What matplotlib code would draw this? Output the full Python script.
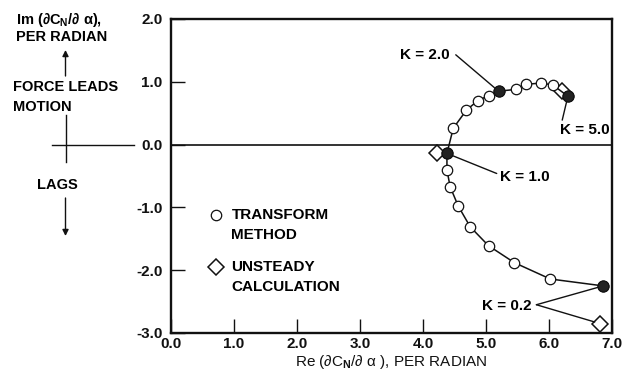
import numpy as np
import matplotlib
matplotlib.use('Agg')
import matplotlib.pyplot as plt
from matplotlib.lines import Line2D

# ─────────────────────────────────────────
# DATA
# ─────────────────────────────────────────

# transform method, ordered from K = 0.2 round to K = 5.0
TRANSFORM_RE = [6.86, 6.02, 5.45, 5.04, 4.75, 4.56, 4.43, 4.38, 4.38,
                4.48, 4.69, 4.87, 5.04, 5.20, 5.48, 5.63, 5.88, 6.06, 6.30]
TRANSFORM_IM = [-2.25, -2.14, -1.88, -1.61, -1.31, -0.98, -0.67, -0.40, -0.14,
                0.26, 0.55, 0.70, 0.78, 0.85, 0.88, 0.96, 0.98, 0.95, 0.77]

# the filled points (K = 0.2, 1.0, 2.0, 5.0)
K_LABELS = ['K = 0.2', 'K = 1.0', 'K = 2.0', 'K = 5.0']
K_RE = [6.86, 4.38, 5.20, 6.30]
K_IM = [-2.25, -0.14, 0.85, 0.77]

# unsteady calculation (K = 0.2, 1.0, 5.0)
UNSTEADY_RE = [6.81, 4.22, 6.21]
UNSTEADY_IM = [-2.85, -0.14, 0.85]

X_TICKS = [0, 1, 2, 3, 4, 5, 6, 7]
Y_TICKS = [-3, -2, -1, 0, 1, 2]

FONT = ['Liberation Sans', 'DejaVu Sans']
INK = '#111111'
FS = 11

plt.rcParams['font.family'] = FONT
plt.rcParams['font.weight'] = 'bold'
plt.rcParams['mathtext.fontset'] = 'custom'
plt.rcParams['mathtext.rm'] = 'Liberation Sans:bold'
plt.rcParams['mathtext.bf'] = 'Liberation Sans:bold'
plt.rcParams['mathtext.it'] = 'Liberation Sans:bold'

W, H = 623, 380
fig = plt.figure(figsize=(W / 100, H / 100), dpi=100)
ax = fig.add_axes([171 / W, 1 - 333 / H, (612 - 171) / W, (333 - 19) / H])


def fig_xy(px, py):
    # top-left pixel position -> figure fraction
    return px / W, 1 - py / H


# ─────────────────────────────────────────
# AXES
# ─────────────────────────────────────────
ax.set_xlim(0, 7)
ax.set_ylim(-3, 2)
ax.set_xticks(X_TICKS)
ax.set_yticks(Y_TICKS)
ax.set_xticklabels([f'{v:.1f}' for v in X_TICKS])
ax.set_yticklabels([f'{v:.1f}' for v in Y_TICKS])
ax.tick_params(direction='in', length=10, width=1.0, colors=INK,
               labelsize=FS, top=False, right=False)
ax.tick_params(axis='y', pad=6)
ax.tick_params(axis='x', pad=3)
for s in ax.spines.values():
    s.set_linewidth(1.7)
    s.set_color(INK)
ax.axhline(0, color=INK, lw=1.2, zorder=1)

ax.set_xlabel('Re (∂C$_{N}$/∂ α ), PER RADIAN', fontsize=FS, color=INK, labelpad=1)

# ─────────────────────────────────────────
# SERIES
# ─────────────────────────────────────────
ax.plot(UNSTEADY_RE, UNSTEADY_IM, ls='none', marker='D', ms=8,
        mfc='white', mec=INK, mew=1.1, zorder=3)
ax.plot(TRANSFORM_RE, TRANSFORM_IM, color=INK, lw=1.1, marker='o', ms=7.5,
        mfc='white', mec=INK, mew=0.9, zorder=4)
ax.plot(K_RE, K_IM, ls='none', marker='o', ms=8,
        mfc='#222222', mec=INK, mew=0.9, zorder=5)

# ─────────────────────────────────────────
# K LABELS
# ─────────────────────────────────────────
arr = dict(arrowstyle='-', color=INK, lw=1.0, shrinkA=0, shrinkB=4)
ax.annotate('', xy=(K_RE[2], K_IM[2]), xytext=(4.52, 1.43), arrowprops=arr)
ax.text(4.43, 1.43, K_LABELS[2], ha='right', va='center', fontsize=FS)

ax.annotate('', xy=(K_RE[3], K_IM[3]), xytext=(6.21, 0.39), arrowprops=arr)
ax.text(6.17, 0.23, K_LABELS[3], ha='left', va='center', fontsize=FS)

ax.annotate('', xy=(K_RE[1], K_IM[1]), xytext=(5.17, -0.46), arrowprops=arr)
ax.text(5.22, -0.51, K_LABELS[1], ha='left', va='center', fontsize=FS)

ax.annotate('', xy=(K_RE[0], K_IM[0]), xytext=(5.80, -2.55), arrowprops=arr)
ax.annotate('', xy=(UNSTEADY_RE[0], UNSTEADY_IM[0]), xytext=(5.80, -2.55),
            arrowprops=arr)
ax.text(5.73, -2.57, K_LABELS[0], ha='right', va='center', fontsize=FS)

# ─────────────────────────────────────────
# LEGEND (drawn in place)
# ─────────────────────────────────────────
ax.plot([0.71], [-1.12], marker='o', ms=7.5, mfc='white', mec=INK, mew=0.9)
ax.text(0.96, -1.12, 'TRANSFORM', va='center', fontsize=FS)
ax.text(0.96, -1.44, 'METHOD', va='center', fontsize=FS)
ax.plot([0.71], [-1.95], marker='D', ms=8, mfc='white', mec=INK, mew=1.1)
ax.text(0.96, -1.95, 'UNSTEADY', va='center', fontsize=FS)
ax.text(0.96, -2.27, 'CALCULATION', va='center', fontsize=FS)

# ─────────────────────────────────────────
# LEFT-SIDE Y LABEL AND DIRECTION ARROWS
# ─────────────────────────────────────────
fig.text(*fig_xy(16, 20), 'Im (∂C$_{N}$/∂ α),', va='center', fontsize=10.5)
fig.text(*fig_xy(16, 37), 'PER RADIAN', va='center', fontsize=10.5)
fig.text(*fig_xy(13, 87), 'FORCE LEADS', va='center', fontsize=10.5)
fig.text(*fig_xy(13, 107), 'MOTION', va='center', fontsize=10.5)
fig.text(*fig_xy(37, 185), 'LAGS', va='center', fontsize=10.5)

head = dict(arrowstyle='-|>', color=INK, lw=1.0, mutation_scale=9,
            shrinkA=0, shrinkB=0)
fig.add_artist(plt.Annotation('', xy=fig_xy(65.5, 50), xytext=fig_xy(65.5, 76),
                              xycoords='figure fraction', arrowprops=head))
fig.add_artist(plt.Annotation('', xy=fig_xy(65.5, 236), xytext=fig_xy(65.5, 198),
                              xycoords='figure fraction', arrowprops=head))
x0, y0 = fig_xy(65.5, 115)
x1, y1 = fig_xy(65.5, 162)
fig.add_artist(Line2D([x0, x1], [y0, y1], color=INK, lw=1.0))
x0, y0 = fig_xy(52, 145)
x1, y1 = fig_xy(134, 145)
fig.add_artist(Line2D([x0, x1], [y0, y1], color=INK, lw=1.0))

fig.savefig('out.png', dpi=100)
